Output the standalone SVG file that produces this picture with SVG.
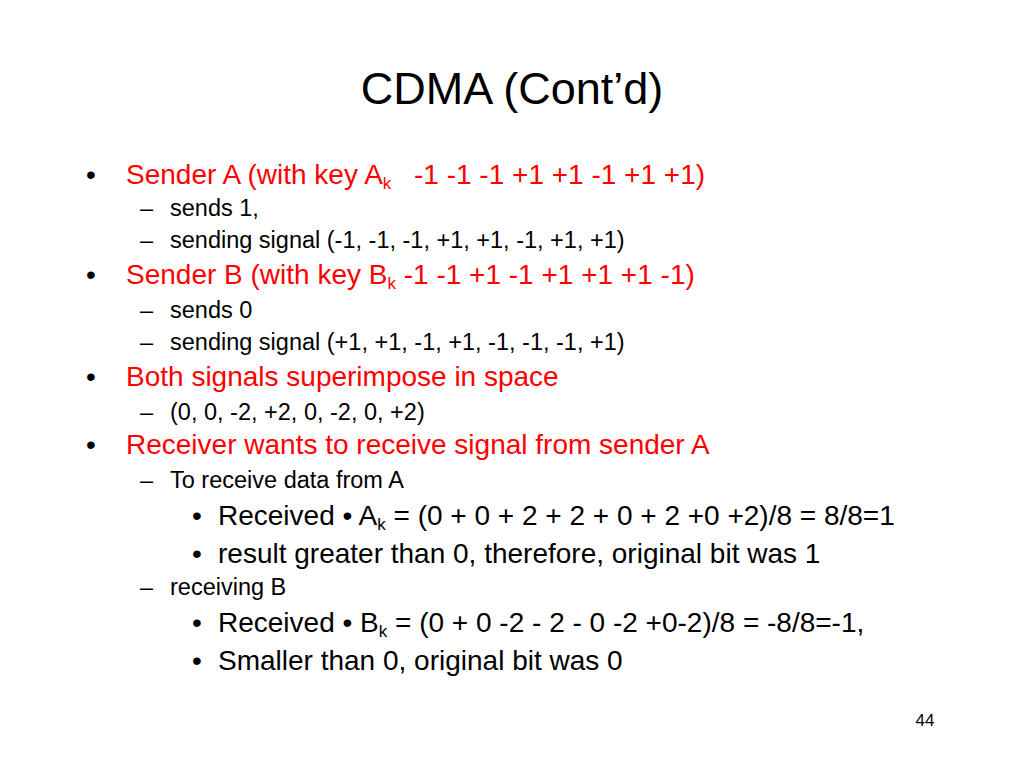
<svg xmlns="http://www.w3.org/2000/svg" width="1024" height="768" viewBox="0 0 1024 768">
<style>
text{font-family:"Liberation Sans",Arial,sans-serif;fill:#000}
.r{fill:#FF0000;font-size:28px}
.s{font-size:23.5px}
.t{font-size:28px}
.sub{font-size:17px}
</style>
<rect width="1024" height="768" fill="#fff"/>
<text x="512" y="104" font-size="45" text-anchor="middle">CDMA (Cont’d)</text>
<g class="b">
<text x="86" y="184" class="t">•</text>
<text x="126" y="184" class="r">Sender A (with key A<tspan class="sub" dy="5">k</tspan></text>
<text x="414" y="184" class="r">-1 -1 -1 +1 +1 -1 +1 +1)</text>
<text x="140" y="216" class="s">–</text><text x="170" y="216" class="s">sends 1,</text>
<text x="140" y="248" class="s">–</text><text x="170" y="248" class="s">sending signal (-1, -1, -1, +1, +1, -1, +1, +1)</text>
<text x="86" y="284" class="t">•</text>
<text x="126" y="284" class="r">Sender B (with key B<tspan class="sub" dy="5">k</tspan><tspan dy="-5"> -1 -1 +1 -1 +1 +1 +1 -1)</tspan></text>
<text x="140" y="318" class="s">–</text><text x="170" y="318" class="s">sends 0</text>
<text x="140" y="350" class="s">–</text><text x="170" y="350" class="s">sending signal (+1, +1, -1, +1, -1, -1, -1, +1)</text>
<text x="86" y="386" class="t">•</text>
<text x="126" y="386" class="r">Both signals superimpose in space</text>
<text x="140" y="420" class="s">–</text><text x="170" y="420" class="s">(0, 0, -2, +2, 0, -2, 0, +2)</text>
<text x="86" y="454" class="t">•</text>
<text x="126" y="454" class="r">Receiver wants to receive signal from sender A</text>
<text x="140" y="488" class="s">–</text><text x="170" y="488" class="s">To receive data from A</text>
<text x="192" y="525" class="t">•</text><text x="218" y="525" class="t">Received • A<tspan class="sub" dy="5">k</tspan><tspan dy="-5"> = (0 + 0 + 2 + 2 + 0 + 2 +0 +2)/8 = 8/8=1</tspan></text>
<text x="192" y="563" class="t">•</text><text x="218" y="563" class="t">result greater than 0, therefore, original bit was 1</text>
<text x="140" y="595" class="s">–</text><text x="170" y="595" class="s">receiving B</text>
<text x="192" y="632" class="t">•</text><text x="218" y="632" class="t">Received • B<tspan class="sub" dy="5">k</tspan><tspan dy="-5"> = (0 + 0 -2 - 2 - 0 -2 +0-2)/8 = -8/8=-1,</tspan></text>
<text x="192" y="670" class="t">•</text><text x="218" y="670" class="t">Smaller than 0, original bit was 0</text>
</g>
<text x="925" y="726" font-size="17" text-anchor="middle">44</text>
</svg>
